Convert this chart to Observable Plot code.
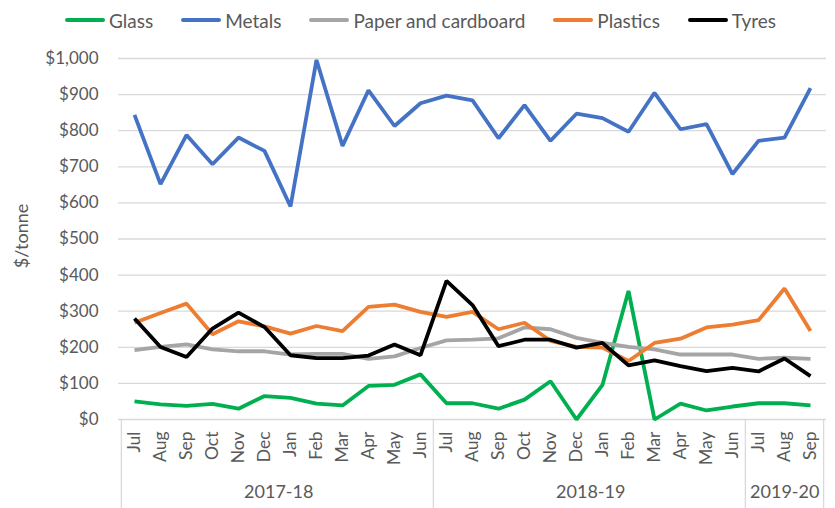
<!DOCTYPE html>
<html>
<head>
<meta charset="utf-8">
<script src="https://cdn.jsdelivr.net/npm/d3@7"></script>
<script src="https://cdn.jsdelivr.net/npm/@observablehq/plot@0.6"></script>
<style>
  html, body { margin: 0; padding: 0; background: #fff; }
  #wrap { width: 835px; height: 508px; font-family: Lato, "Open Sans", sans-serif; color: #595959; }
  #legend { height: 40px; display: flex; justify-content: center; align-items: center; gap: 28px; font-size: 19px; padding-left: 6px; box-sizing: border-box; }
  .item { display: flex; align-items: center; }
  .sw { display: inline-block; width: 40px; height: 4px; border-radius: 2px; margin-right: 4px; }
</style>
</head>
<body>
<div id="wrap">
  <div id="legend"></div>
  <div id="chart"></div>
</div>
<script>
const periods = [
  "Jul 2017","Aug 2017","Sep 2017","Oct 2017","Nov 2017","Dec 2017","Jan 2018","Feb 2018","Mar 2018","Apr 2018","May 2018","Jun 2018",
  "Jul 2018","Aug 2018","Sep 2018","Oct 2018","Nov 2018","Dec 2018","Jan 2019","Feb 2019","Mar 2019","Apr 2019","May 2019","Jun 2019",
  "Jul 2019","Aug 2019","Sep 2019"
];
const fyLabels = ["2017-18", "2018-19", "2019-20"];
const fyStart = ["Jul 2017", "Jul 2018", "Jul 2019"];
const fyCount = [12, 12, 3];

const seriesNames = ["Glass", "Metals", "Paper and cardboard", "Plastics", "Tyres"];
const seriesColors = ["#00B050", "#4472C4", "#A5A5A5", "#ED7D31", "#000000"];

const glass    = [50, 42, 38, 43, 30, 65, 60, 44, 39, 93, 96, 125, 45, 45, 30, 55, 106, 0, 96, 356, 0, 44, 25, 36, 45, 45, 39];
const metals   = [844, 652, 788, 707, 781, 744, 590, 996, 758, 912, 813, 876, 897, 884, 779, 871, 772, 847, 835, 797, 905, 804, 818, 680, 772, 781, 918];
const paper    = [192, 201, 208, 194, 189, 189, 180, 182, 182, 168, 175, 198, 219, 221, 225, 255, 250, 226, 212, 201, 194, 180, 180, 180, 168, 171, 168];
const plastics = [268, 295, 321, 236, 272, 258, 238, 259, 245, 312, 318, 298, 284, 298, 250, 268, 218, 201, 199, 162, 212, 224, 255, 263, 275, 363, 245];
const tyres    = [280, 201, 173, 252, 296, 256, 178, 170, 170, 177, 208, 178, 384, 317, 203, 221, 221, 199, 212, 150, 164, 148, 134, 143, 133, 169, 120];

const yTicks = [0, 100, 200, 300, 400, 500, 600, 700, 800, 900, 1000];

const seriesValues = [glass, metals, paper, plastics, tyres];
const data = seriesNames.flatMap((name, i) =>
  seriesValues[i].map((v, j) => ({series: name, period: periods[j], value: v}))
);

// legend
const legend = document.getElementById("legend");
seriesNames.forEach((n, i) => {
  const it = document.createElement("div");
  it.className = "item";
  it.innerHTML = `<span class="sw" style="background:${seriesColors[i]}"></span><span>${n}</span>`;
  legend.appendChild(it);
});

const W = 835, H = 468, mL = 118, mR = 9, mT = 18, mB = 89;
const step = (W - mL - mR) / periods.length;
const frameH = H - mT - mB;

const plot = Plot.plot({
  width: W,
  height: H,
  marginLeft: mL,
  marginRight: mR,
  marginTop: mT,
  marginBottom: mB,
  style: {fontFamily: "Lato, 'Open Sans', sans-serif", color: "#595959", background: "#fff", overflow: "visible"},
  x: {type: "point", domain: periods, padding: 0.5, axis: null},
  y: {domain: [0, 1000], axis: null},
  color: {domain: seriesNames, range: seriesColors},
  marks: [
    Plot.gridY(yTicks, {stroke: "#d9d9d9", strokeOpacity: 1, strokeWidth: 1.3}),
    Plot.axisY(yTicks, {tickSize: 0, tickPadding: 20, tickFormat: d3.format("$,"), fontSize: 17, fill: "#595959", label: null}),
    Plot.axisX({tickSize: 0, tickPadding: 12, tickRotate: -90, tickFormat: d => d.slice(0, 3), fontSize: 17.5, fill: "#595959", label: null}),
    Plot.ruleX(fyStart, {x: d => d, dx: -step / 2, stroke: "#d9d9d9", strokeWidth: 1.3, insetTop: frameH, insetBottom: -mB}),
    Plot.ruleX([periods[periods.length - 1]], {x: d => d, dx: step / 2, stroke: "#d9d9d9", strokeWidth: 1.3, insetTop: frameH, insetBottom: -mB}),
    ...fyLabels.map((lab, i) => Plot.text([lab], {
      x: () => fyStart[i], frameAnchor: "bottom", dx: (fyCount[i] - 1) * step / 2, dy: 78,
      fontSize: 18, fill: "#595959"
    })),
    Plot.line(data, {x: "period", y: "value", z: "series", stroke: "series", strokeWidth: 3.8, strokeLinejoin: "miter", strokeLinecap: "butt"}),
    Plot.text(["$/tonne"], {frameAnchor: "left", textAnchor: "middle", dx: -96, dy: -3, rotate: -90, fontSize: 18, fill: "#595959"})
  ]
});
document.getElementById("chart").appendChild(plot);
</script>
</body>
</html>
